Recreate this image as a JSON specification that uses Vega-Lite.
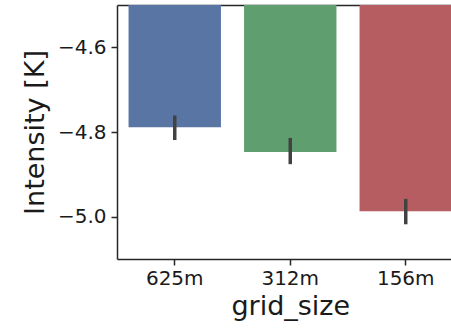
{
  "$schema": "https://vega.github.io/schema/vega-lite/v6.json",
  "autosize": "none",
  "width": 334,
  "height": 254,
  "padding": {"left": 117, "top": 5, "right": 0, "bottom": 69},
  "background": "white",
  "data": {"values": [
    {"grid_size": "625m", "intensity": -4.789, "lo": -4.819, "hi": -4.761},
    {"grid_size": "312m", "intensity": -4.847, "lo": -4.876, "hi": -4.814},
    {"grid_size": "156m", "intensity": -4.987, "lo": -5.018, "hi": -4.958}
  ]},
  "config": {
    "view": {"stroke": null},
    "font": "DejaVu Sans",
    "axis": {
      "domainColor": "#262626", "domainWidth": 1.5,
      "tickColor": "#262626", "tickWidth": 1.5, "tickSize": 6,
      "labelFont": "DejaVu Sans", "labelFontSize": 20, "labelColor": "#1a1a1a",
      "titleFont": "DejaVu Sans", "titleFontSize": 27, "titleFontWeight": "normal", "titleColor": "#1a1a1a",
      "grid": false
    }
  },
  "layer": [
    {
      "mark": {"type": "bar", "clip": true},
      "encoding": {
        "x": {"field": "grid_size", "type": "nominal", "sort": ["625m", "312m", "156m"],
              "scale": {"range": [0, 346.5], "paddingInner": 0.2, "paddingOuter": 0.1},
              "axis": {"labelAngle": 0, "labelPadding": 3, "titlePadding": 5, "title": "grid_size"}},
        "y": {"field": "intensity", "type": "quantitative",
              "scale": {"domain": [-5.1, -4.5], "nice": false, "zero": false},
              "axis": {"values": [-5.0, -4.8, -4.6], "format": ".1f", "labelPadding": 5, "titlePadding": 8, "title": "Intensity [K]"}},
        "y2": {"datum": 0},
        "color": {"field": "grid_size", "type": "nominal",
                  "scale": {"domain": ["625m", "312m", "156m"], "range": ["#5875a4", "#5f9e6e", "#b55d60"]},
                  "legend": null}
      }
    },
    {
      "mark": {"type": "rule", "color": "#424242", "strokeWidth": 3.5},
      "encoding": {
        "x": {"field": "grid_size", "type": "nominal", "sort": ["625m", "312m", "156m"],
              "axis": {"orient": "top", "labels": false, "ticks": false, "title": null, "domain": true}},
        "y": {"field": "lo", "type": "quantitative"},
        "y2": {"field": "hi"}
      }
    }
  ],
  "resolve": {"axis": {"x": "independent"}}
}
